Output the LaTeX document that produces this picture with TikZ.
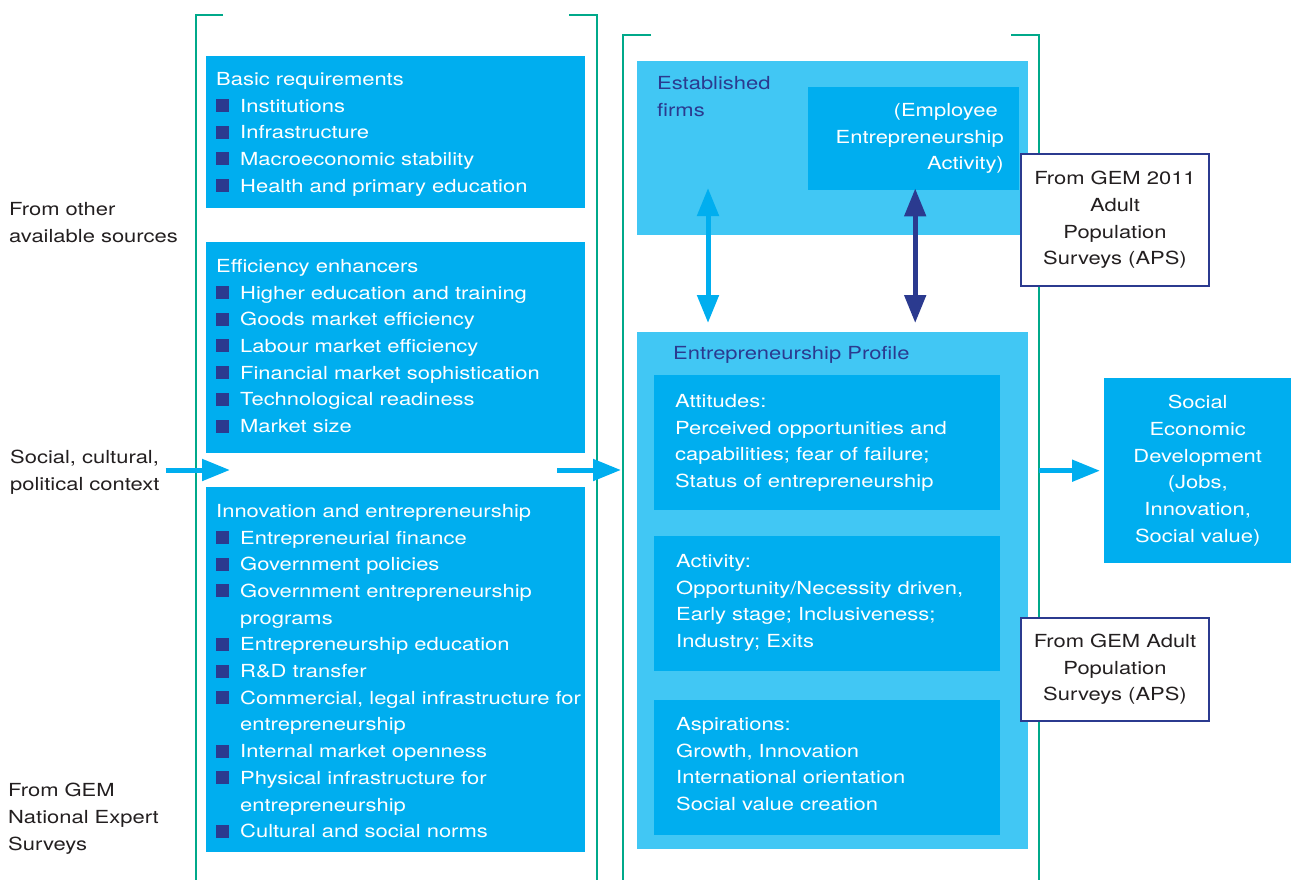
\documentclass[tikz,border=0pt]{standalone}
\usepackage{fontspec}
\setmainfont[FakeStretch=1.22]{TeX Gyre Heros}
\usepackage{xcolor}
\usetikzlibrary{arrows.meta, positioning}
\definecolor{gemcyan}{HTML}{00AEEF}
\definecolor{gemlight}{HTML}{41C7F4}
\definecolor{gemnavy}{HTML}{2B3A8F}
\definecolor{gemgreen}{HTML}{00A98A}
\definecolor{gemtext}{HTML}{231F20}
\newcommand{\gemsize}{\fontsize{18pt}{26.7pt}\selectfont}
\newcommand{\itm}{\textcolor{gemnavy}{\rule{13pt}{13pt}}\hspace{11pt}}
\newcommand{\itmgap}{\hspace*{24pt}}
\tikzset{
  gem box/.style={
    fill=gemcyan,
    inner sep=0pt,
    anchor=north west
  },
  gem panel/.style={
    fill=gemlight,
    inner sep=0pt,
    anchor=north west
  },
  box text/.style={
    font=\gemsize,
    text=white,
    align=left,
    inner sep=0pt,
    anchor=north west
  },
  panel text/.style={box text, text=gemnavy},
  side text/.style={box text, text=gemtext},
  source box/.style={
    draw=gemnavy, line width=2.4pt, fill=white,
    font=\gemsize, text=gemtext, align=center,
    inner sep=0pt
  },
  frame/.style={draw=gemgreen, line width=2.4pt},
  flow/.style={
    -{Triangle[length=28pt, width=21pt]},
    line width=5pt, color=gemcyan
  },
  link/.style={
    {Triangle[length=28pt, width=21pt]}-{Triangle[length=28pt, width=21pt]},
    line width=5pt
  }
}

\begin{document}
\begin{tikzpicture}[x=1pt, y=-1pt]
  \useasboundingbox (0,0) rectangle (1291,880);

  % frames round the conditions and the profile
  \coordinate (frame a) at (196,15);
  \coordinate (frame b) at (597,15);
  \coordinate (frame c) at (623,35);
  \coordinate (frame d) at (1039,35);
  \draw[frame] (223,15) -- (frame a) -- (196,880);
  \draw[frame] (569,15) -- (frame b) -- (597,880);
  \draw[frame] (651,35) -- (frame c) -- (623,880);
  \draw[frame] (1011,35) -- (frame d) -- (1039,880);

  % sources on the left
  \node[side text] (other) at (9,202) {From other\\available sources};
  \node[side text] (social) at (10,450) {Social, cultural,\\political context};
  \node[side text] (expert) at (8,783) {From GEM\\National Expert\\Surveys};

  % framework conditions
  \node[gem box, minimum width=379pt, minimum height=152pt] (basic) at (206,56) {};
  \node[gem box, minimum width=379pt, minimum height=211pt] (efficiency) at (206,242) {};
  \node[gem box, minimum width=379pt, minimum height=365pt] (innovation) at (206,487) {};
  \node[box text] at (216,72) {Basic requirements\\
    \itm Institutions\\
    \itm Infrastructure\\
    \itm Macroeconomic stability\\
    \itm Health and primary education};
  \node[box text] at (216,259) {Efficiency enhancers\\
    \itm Higher education and training\\
    \itm Goods market efficiency\\
    \itm Labour market efficiency\\
    \itm Financial market sophistication\\
    \itm Technological readiness\\
    \itm Market size};
  \node[box text] at (216,504) {Innovation and entrepreneurship\\
    \itm Entrepreneurial finance\\
    \itm Government policies\\
    \itm Government entrepreneurship\\
    \itmgap programs\\
    \itm Entrepreneurship education\\
    \itm R\&D transfer\\
    \itm Commercial, legal infrastructure for\\
    \itmgap entrepreneurship\\
    \itm Internal market openness\\
    \itm Physical infrastructure for\\
    \itmgap entrepreneurship\\
    \itm Cultural and social norms};

  % established firms
  \node[gem panel, minimum width=391pt, minimum height=174pt] (firms) at (637,61) {};
  \node[panel text] at (657,76) {Established\\firms};
  \node[gem box, minimum width=211pt, minimum height=103pt] (employee) at (808,87) {};
  \node[box text, align=right, anchor=north east] at (1004,103)
    {(Employee\hspace*{6pt}\\Entrepreneurship\\Activity)};

  % entrepreneurship profile
  \node[gem panel, minimum width=391pt, minimum height=517pt] (profile) at (637,332) {};
  \node[panel text] at (673,346) {Entrepreneurship Profile};
  \node[gem box, minimum width=346pt, minimum height=135pt] (attitudes) at (654,375) {};
  \node[gem box, minimum width=346pt, minimum height=135pt] (activity) at (654,536) {};
  \node[gem box, minimum width=346pt, minimum height=135pt] (aspirations) at (654,700) {};
  \node[box text] at (675,394) {Attitudes:\\
    Perceived opportunities and\\
    capabilities; fear of failure;\\
    Status of entrepreneurship};
  \node[box text] at (676,554) {Activity:\\
    Opportunity/Necessity driven,\\
    Early stage; Inclusiveness;\\
    Industry; Exits};
  \node[box text] at (676,717) {Aspirations:\\
    Growth, Innovation\\
    International orientation\\
    Social value creation};

  % outcome
  \node[gem box, minimum width=187pt, minimum height=185pt] (outcome) at (1104,378) {};
  \node[box text, align=center, anchor=center] at (outcome.center)
    {Social\\Economic\\Development\\(Jobs,\\Innovation,\\Social value)};

  % survey sources
  \node[source box, minimum width=188pt, minimum height=132pt] (aps a) at (1115,220)
    {From GEM 2011\\Adult\\Population\\Surveys (APS)};
  \node[source box, minimum width=188pt, minimum height=103pt] (aps b) at (1115,669.5)
    {From GEM Adult\\Population\\Surveys (APS)};

  % arrows
  \coordinate (ctx tip) at (230,470);
  \coordinate (cond tail) at (557,470);
  \coordinate (cond tip) at (621,470);
  \coordinate (firms link) at (708,188);
  \draw[flow, shorten <=6pt] (social.east |- ctx tip) -- (ctx tip);
  \draw[flow] (cond tail) -- (cond tip);
  \draw[flow, shorten >=4pt] (frame d |- outcome.west) -- (outcome.west);
  \draw[link, color=gemcyan, shorten >=9pt] (firms link) -- (firms link |- profile.north);
  \draw[link, color=gemnavy, shorten <=-2pt, shorten >=9pt]
    ([xshift=1.5pt]employee.south) -- ([xshift=1.5pt]employee.south |- profile.north);
\end{tikzpicture}
\end{document}
